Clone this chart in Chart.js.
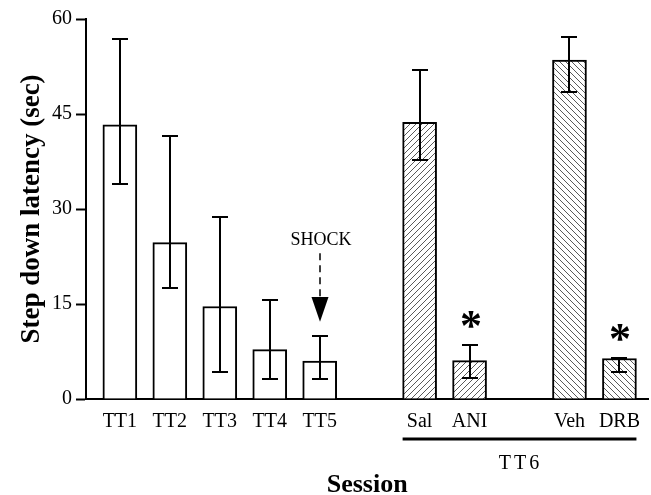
<!DOCTYPE html>
<html>
<head>
<meta charset="utf-8">
<script src="https://cdn.jsdelivr.net/npm/chart.js@4.4.0/dist/chart.umd.min.js"></script>
<style>
  html, body { margin: 0; padding: 0; background: #fff; }
  #wrap { width: 651px; height: 495px; }
</style>
</head>
<body>
<div id="wrap"><canvas id="chart"></canvas></div>
<script>
// chart values
const sessions = ['TT1', 'TT2', 'TT3', 'TT4', 'TT5', 'Sal', 'ANI', 'Veh', 'DRB'];
const positions = [1, 2, 3, 4, 5, 7, 8, 10, 11];
const latency = [43.3, 24.7, 14.6, 7.8, 6.0, 43.7, 6.05, 53.5, 6.4];
const errUpper = [56.8, 41.5, 28.7, 15.7, 9.9, 52.0, 8.6, 57.1, 6.5];
const errLower = [33.9, 17.5, 4.2, 3.2, 3.2, 37.7, 3.3, 48.5, 4.2];
const hatch = ['none', 'none', 'none', 'none', 'none', 'up', 'up', 'down', 'down'];
const significant = [false, false, false, false, false, false, true, false, true];
const yTicks = [0, 15, 30, 45, 60];
const groupLabel = 'TT6';
const shockLabel = 'SHOCK';

const FONT = "'Liberation Serif', 'Times New Roman', serif";

// diagonal hatch fill, '/' or '\'
function makeHatch(dir) {
    const size = 6;
    const c = document.createElement('canvas');
    c.width = size;
    c.height = size;
    const g = c.getContext('2d');
    g.fillStyle = '#fff';
    g.fillRect(0, 0, size, size);
    g.strokeStyle = '#5a5a5a';
    g.lineWidth = 1;
    g.beginPath();
    if (dir === 'up') {
        g.moveTo(-1, size + 1); g.lineTo(size + 1, -1);
        g.moveTo(-1, 1); g.lineTo(1, -1);
        g.moveTo(size - 1, size + 1); g.lineTo(size + 1, size - 1);
    } else {
        g.moveTo(-1, -1); g.lineTo(size + 1, size + 1);
        g.moveTo(size - 1, -1); g.lineTo(size + 1, 1);
        g.moveTo(-1, size - 1); g.lineTo(1, size + 1);
    }
    g.stroke();
    return g.createPattern(c, 'repeat');
}

const fills = hatch.map(h => h === 'none' ? '#fff' : makeHatch(h));

// error bars, asterisks, shock arrow and TT6 bracket
const extras = {
    id: 'extras',
    afterDatasetsDraw(chart) {
        const {ctx, scales: {x, y}} = chart;
        ctx.save();
        ctx.strokeStyle = '#000';
        ctx.fillStyle = '#000';
        ctx.lineWidth = 2;

        positions.forEach((p, i) => {
            const px = Math.round(x.getPixelForValue(p));
            const top = Math.round(y.getPixelForValue(errUpper[i]));
            const bot = Math.round(y.getPixelForValue(errLower[i]));
            ctx.beginPath();
            ctx.moveTo(px, top); ctx.lineTo(px, bot);
            ctx.moveTo(px - 8, top); ctx.lineTo(px + 8, top);
            ctx.moveTo(px - 8, bot); ctx.lineTo(px + 8, bot);
            ctx.stroke();

            if (significant[i]) {
                ctx.font = "bold 44px " + FONT;
                ctx.textAlign = 'center';
                ctx.textBaseline = 'alphabetic';
                ctx.fillText('*', px + 1, top - 25 + 20);
            }
        });

        // SHOCK arrow over TT5
        const sx = Math.round(x.getPixelForValue(positions[4]));
        ctx.font = "18px " + FONT;
        ctx.textAlign = 'center';
        ctx.textBaseline = 'middle';
        ctx.fillText(shockLabel, sx + 1, y.getPixelForValue(25.1));
        ctx.lineWidth = 1.5;
        ctx.setLineDash([7, 5]);
        ctx.beginPath();
        ctx.moveTo(sx, y.getPixelForValue(23.0));
        ctx.lineTo(sx, y.getPixelForValue(16.1));
        ctx.stroke();
        ctx.setLineDash([]);
        const headTop = y.getPixelForValue(16.1);
        const tip = y.getPixelForValue(12.2);
        ctx.beginPath();
        ctx.moveTo(sx - 8.5, headTop);
        ctx.lineTo(sx + 8.5, headTop);
        ctx.lineTo(sx, tip);
        ctx.closePath();
        ctx.fill();

        // TT6 bracket under the drug groups
        const meta = chart.getDatasetMeta(0);
        const first = meta.data[5];
        const last = meta.data[8];
        const lineY = y.bottom + 40;
        ctx.lineWidth = 3;
        ctx.beginPath();
        ctx.moveTo(first.x - first.width / 2, lineY);
        ctx.lineTo(last.x + last.width / 2, lineY);
        ctx.stroke();
        ctx.font = "20px " + FONT;
        ctx.letterSpacing = '3px';
        ctx.textBaseline = 'middle';
        ctx.fillText(groupLabel, (first.x + last.x) / 2 + 1, lineY + 25);
        ctx.restore();
    }
};

new Chart(document.getElementById('chart'), {
    type: 'bar',
    data: {
        datasets: [{
            data: positions.map((p, i) => ({x: p, y: latency[i]})),
            backgroundColor: fills,
            borderColor: '#000',
            borderWidth: 2,
            borderSkipped: 'bottom',
            barThickness: 34
        }]
    },
    options: {
        responsive: true,
        maintainAspectRatio: false,
        animation: false,
        layout: {padding: {left: 14, top: 19, right: 0, bottom: 0}},
        plugins: {legend: {display: false}, tooltip: {enabled: false}},
        scales: {
            x: {
                type: 'linear',
                offset: false,
                bounds: 'data',
                min: 0.322,
                max: 11.58,
                afterBuildTicks: scale => {
                    scale.ticks = positions.map(v => ({value: v}));
                },
                afterFit: scale => { scale.height = 96; },
                ticks: {
                    autoSkip: false,
                    maxRotation: 0,
                    padding: 11,
                    color: '#000',
                    font: {family: FONT, size: 20},
                    callback: (v) => sessions[positions.indexOf(v)]
                },
                grid: {display: true, drawOnChartArea: false, drawTicks: false},
                border: {display: true, color: '#000', width: 2},
                title: {
                    display: true,
                    text: 'Session',
                    color: '#000',
                    font: {family: FONT, size: 26, weight: 'bold', lineHeight: 1},
                    padding: {top: 0, bottom: -3}
                }
            },
            y: {
                min: 0,
                max: 60,
                afterBuildTicks: scale => {
                    scale.ticks = yTicks.map(v => ({value: v}));
                },
                afterFit: scale => { scale.width = 72; },
                ticks: {
                    padding: 4,
                    color: '#000',
                    font: {family: FONT, size: 20}
                },
                grid: {
                    display: true,
                    drawOnChartArea: false,
                    drawTicks: true,
                    tickLength: 10,
                    tickWidth: 2,
                    tickColor: '#000'
                },
                border: {display: true, color: '#000', width: 2},
                title: {
                    display: true,
                    text: 'Step down latency (sec)',
                    color: '#000',
                    font: {family: FONT, size: 27, weight: 'bold', lineHeight: 1.2},
                    padding: {top: 2, bottom: 4}
                }
            }
        }
    },
    plugins: [extras]
});
</script>
</body>
</html>
